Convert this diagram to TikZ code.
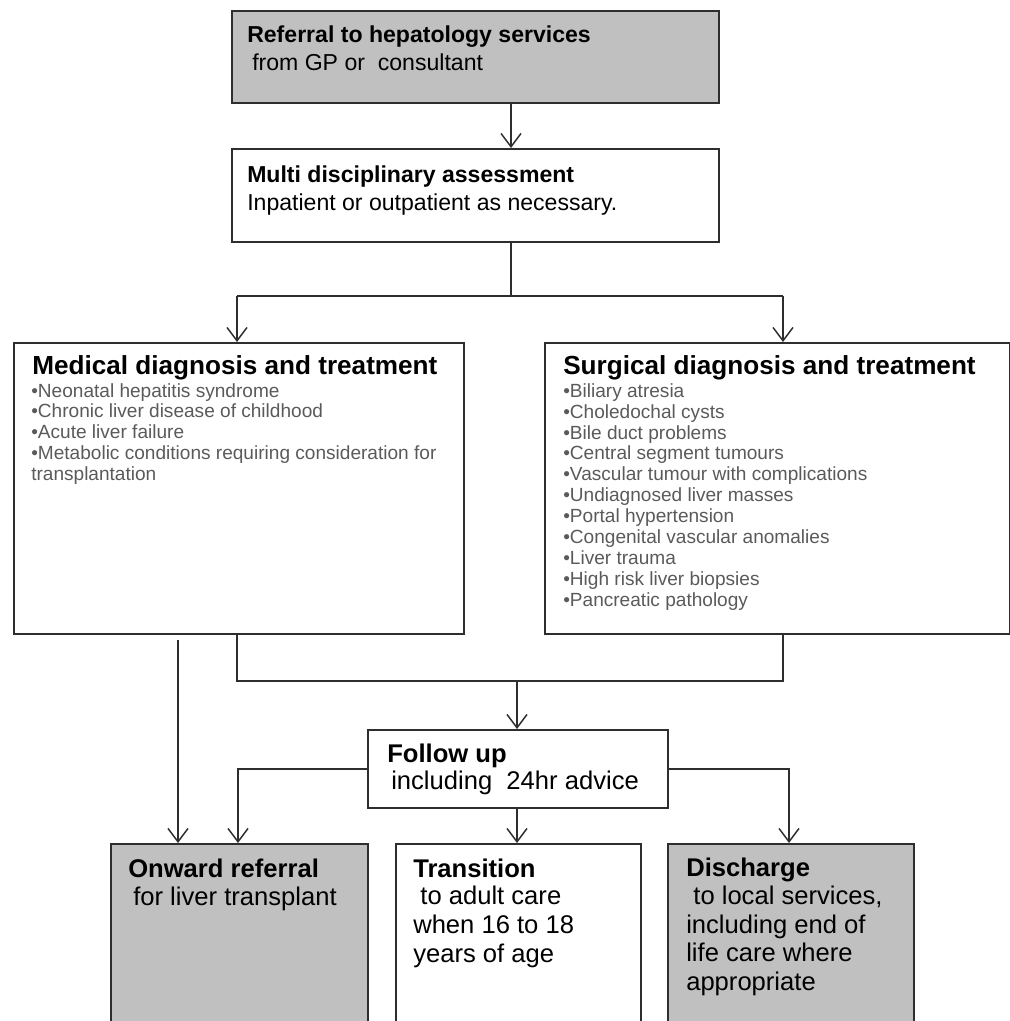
\documentclass[tikz,border=0pt]{standalone}
\usepackage{fontspec}
\setmainfont{Liberation Sans}
\usetikzlibrary{arrows.meta}
\definecolor{boxgray}{HTML}{C0C0C0}
\definecolor{linec}{HTML}{2E2E2E}
\definecolor{bulc}{HTML}{5A5A5A}
\tikzset{
  box/.style={draw=linec, line width=1.6pt, rectangle, anchor=north west, inner sep=0pt},
  gbox/.style={box, fill=boxgray},
  conn/.style={draw=linec, line width=1.1pt},
  arr/.style={conn, -{Straight Barb[length=10pt,width=15pt,line width=1.1pt]}},
  txt/.style={anchor=base west, inner sep=0pt, align=left},
  toptxt/.style={txt, font=\fontsize{17.3}{21}\selectfont},
  bigtitle/.style={txt, font=\fontsize{19.6}{23}\selectfont\bfseries},
  bultxt/.style={txt, text=bulc, font=\fontsize{14.3}{15.65}\selectfont},
  lowtxt/.style={txt, font=\fontsize{19.2}{21.4}\selectfont},
}
\begin{document}
\begin{tikzpicture}[x=0.75pt,y=-0.75pt]
\useasboundingbox (0,0) rectangle (1010,1021);
\clip (0,0) rectangle (1010,1021);
% boxes
\node[gbox, minimum width={487*0.75pt}, minimum height={92*0.75pt}] (ref) at (231,10) {};
\node[box, minimum width={487*0.75pt}, minimum height={93*0.75pt}] (mda) at (231,148) {};
\node[box, minimum width={450*0.75pt}, minimum height={291*0.75pt}] (med) at (13,342) {};
\node[box, minimum width={465*0.75pt}, minimum height={291*0.75pt}] (sur) at (544,342) {};
\node[box, minimum width={300*0.75pt}, minimum height={78*0.75pt}] (fu) at (367,729) {};
\node[gbox, minimum width={257*0.75pt}, minimum height={200*0.75pt}] (onw) at (110,843) {};
\node[box, minimum width={245*0.75pt}, minimum height={200*0.75pt}] (tra) at (395,843) {};
\node[gbox, minimum width={246*0.75pt}, minimum height={200*0.75pt}] (dis) at (667,843) {};
% texts (multi-line nodes are placed at the baseline of their last line)
\node[toptxt, font=\fontsize{17.3}{21}\selectfont\bfseries] (t1) at (247,42) {Referral to hepatology services};
\node[toptxt] (t1b) at (252,70) {from GP or\ \ consultant};
\node[toptxt, font=\fontsize{17.3}{21}\selectfont\bfseries] (t2) at (247,182) {Multi disciplinary assessment};
\node[toptxt] (t2b) at (247,210) {Inpatient or outpatient as necessary.};
\node[bigtitle] (t3) at (32,374) {Medical diagnosis and treatment};
\node[bultxt] (t3b) at (31,480.5) {•Neonatal hepatitis syndrome\\•Chronic liver disease of childhood\\•Acute liver failure\\•Metabolic conditions requiring consideration for\\transplantation};
\node[bigtitle] (t4) at (563,374) {Surgical diagnosis and treatment};
\node[bultxt] (t4b) at (563,606) {•Biliary atresia\\•Choledochal cysts\\•Bile duct problems\\•Central segment tumours\\•Vascular tumour with complications\\•Undiagnosed liver masses\\•Portal hypertension\\•Congenital vascular anomalies\\•Liver trauma\\•High risk liver biopsies\\•Pancreatic pathology};
\node[lowtxt, font=\fontsize{19.2}{21.4}\selectfont\bfseries] (t5) at (387,762) {Follow up};
\node[lowtxt] (t5b) at (391,789) {including\ \ 24hr advice};
\node[lowtxt, font=\fontsize{19.2}{21.4}\selectfont\bfseries] (t6) at (128,877) {Onward referral};
\node[lowtxt] (t6b) at (133,905) {for liver transplant};
\node[lowtxt, font=\fontsize{19.2}{21.4}\selectfont\bfseries] (t7) at (413,877) {Transition};
\node[lowtxt] (t7b) at (413,962) {\ to adult care\\when 16 to 18\\years of age};
\node[lowtxt, font=\fontsize{19.2}{21.4}\selectfont\bfseries] (t8) at (686,876) {Discharge};
\node[lowtxt] (t8b) at (686,990.5) {\ to local services,\\including end of\\life care where\\appropriate};
% coordinates
\coordinate (cA) at (511,0);
\coordinate (sp) at (511,296);
\coordinate (spl) at (237,296);
\coordinate (spr) at (783,296);
\coordinate (jl) at (237,681);
\coordinate (jr) at (783,681);
\coordinate (jm) at (517,681);
\coordinate (ol) at (178,640);
\coordinate (fl) at (238,0);
\coordinate (fr) at (789,0);
% connectors
\draw[arr] (ref.south -| cA) -- (mda.north -| cA);
\draw[conn] (mda.south -| cA) -- (sp);
\draw[conn] (spl) -- (spr);
\draw[arr] (spl) -- (spl |- med.north);
\draw[arr] (spr) -- (spr |- sur.north);
\draw[conn] (med.south -| jl) -- (jl) -- (jr) -- (jr |- sur.south);
\draw[arr] (jm) -- (jm |- fu.north);
\draw[arr] (ol) -- (ol |- onw.north);
\draw[arr] (fu.west) -- (fu.west -| fl) -- (fl |- onw.north);
\draw[arr] (fu.east) -- (fu.east -| fr) -- (fr |- dis.north);
\draw[arr] (fu.south -| jm) -- (jm |- tra.north);
\end{tikzpicture}
\end{document}
